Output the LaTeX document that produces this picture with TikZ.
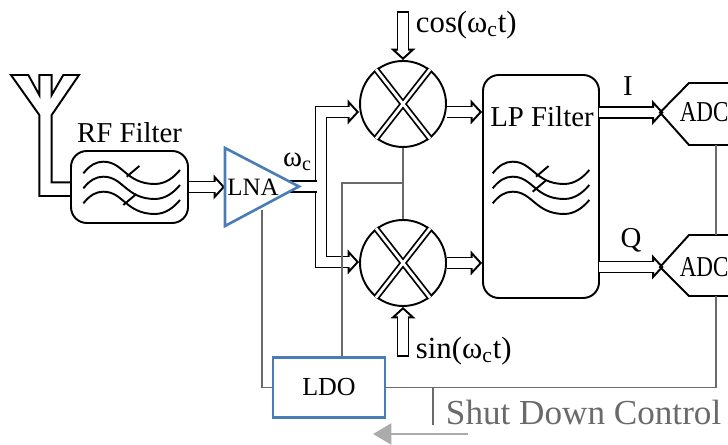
\documentclass[tikz,border=0pt]{standalone}
\usepackage{fontspec}
\setmainfont{Liberation Serif}
\usetikzlibrary{arrows.meta}
\definecolor{lnablue}{HTML}{4A7DB5}
\definecolor{wiregray}{HTML}{6A6A6A}
\definecolor{flowgray}{HTML}{ABABAB}

\begin{document}
\begin{tikzpicture}[line width=1.1pt,
                    label/.style={inner sep=0pt,font=\fontsize{16.4}{18}\selectfont},
                    siglabel/.style={label,anchor=west,font=\fontsize{17.5}{19}\selectfont},
                    filterbox/.style={draw,fill=white,rounded corners=9pt,inner sep=0pt},
                    mixer/.style={circle,draw,fill=white,inner sep=0pt,minimum size=1.72cm},
                    band/.style={double=white,double distance=1.6pt,line width=1pt},
                    bus/.style={line width=7.2pt,postaction={draw=white,line width=5.2pt,-}},
                    hollow/.style={line width=7.2pt,-{Triangle[length=6.5pt,width=14pt,fill=white,line width=1.1pt]},
                                   postaction={draw=white,line width=5.2pt,-,shorten >=5pt}},
                    wire/.style={wiregray,line width=0.9pt},
                    pics/waves/.style={code={
                      \foreach \d in {0,-0.3,-0.6}
                        \draw[yshift=\d cm] (0,0) .. controls (0.13,0.16) and (0.25,0.233) .. (0.4,0.233)
                          .. controls (0.8,0.233) and (0.85,-0.213) .. (1.433,-0.213)
                          .. controls (1.65,-0.213) and (1.82,-0.07) .. (1.933,0.067);
                      \draw (0.867,-0.067) -- ++(0.253,0.214);
                      \draw (0.8,#1) -- ++(0.26,0.22);
                    }}]
  \clip (0,0) rectangle (14.56,8.9);

  \coordinate (lnaa) at (4.5,5.94);
  \coordinate (lnab) at (4.5,4.38);
  \coordinate (lnat) at (5.98,5.17);
  \coordinate (lnai) at (5.7,5.17);
  \coordinate (lnaf) at (5.24,4.7);
  \coordinate (fork) at (6.42,5.17);
  \coordinate (forkl) at (6.33,5.17);
  \coordinate (cosin) at (8.06,8.66);
  \coordinate (sinin) at (8.06,1.78);
  \coordinate (tap) at (6.84,5.24);
  \coordinate (iout) at (11.98,6.65);
  \coordinate (qout) at (11.98,3.56);
  \coordinate (adca) at (13.2,6.65);
  \coordinate (adcb) at (13.2,3.56);
  \coordinate (bridgea) at (14.32,6.0);
  \coordinate (bridgeb) at (14.32,4.2);
  \coordinate (bridgec) at (14.32,2.98);
  \coordinate (shut) at (8.66,1.15);
  \coordinate (shutend) at (8.66,0.4);
  \coordinate (flowa) at (9.36,0.22);
  \coordinate (flowb) at (7.46,0.22);

  \draw (0.22,7.4) -- (0.786,6.6) -- (0.786,4.98) -- (1.42,4.98) -- (1.42,5.254) -- (1.034,5.254)
    -- (1.034,6.6) -- (1.58,7.4) -- (1.266,7.4) -- (1.034,7.0) -- (1.034,7.4) -- (0.786,7.4)
    -- (0.786,7.0) -- (0.566,7.4) -- cycle;

  \node[filterbox,minimum width=2.34cm,minimum height=1.44cm] (rff) at (2.59,5.16) {};
  \node[filterbox,minimum width=2.32cm,minimum height=4.46cm] (lpf) at (10.82,5.17) {};
  \node[mixer] (mixa) at (8.06,6.82) {};
  \node[mixer] (mixb) at (8.06,3.64) {};
  \node[draw=lnablue,fill=white,line width=1.5pt,minimum width=2.24cm,minimum height=1.2cm,
        font=\fontsize{14.8}{16}\selectfont] (ldo) at (6.58,1.15) {LDO};

  \pic at (1.667,5.433) {waves=-0.633};
  \pic at (9.853,5.433) {waves=-0.367};
  \foreach \m in {mixa,mixb}
    \draw[band] (\m.128) -- (\m.308) (\m.52) -- (\m.232);

  \node[label] (rfl) at (2.59,6.24) {RF Filter};
  \node[label] (lpl) at (10.84,6.56) {LP Filter};
  \node[siglabel] (coslab) at (8.3,8.4) {cos(ω\textsubscript{c}t)};
  \node[siglabel] (sinlab) at (8.3,1.88) {sin(ω\textsubscript{c}t)};
  \node[label] (wc) at (5.95,5.66) {ω\textsubscript{c}};
  \node[label] (il) at (12.56,7.18) {I};
  \node[label] (ql) at (12.62,4.1) {Q};
  \node[label,anchor=west,text=wiregray,font=\fontsize{20}{22}\selectfont] (sdc) at (8.9,0.66) {Shut Down Control};

  \draw[hollow] (fork) |- (mixa.west|-0,6.66);
  \draw[hollow] (fork) |- (mixb.west|-0,3.66);
  \draw[bus] (lnai) -- (forkl);
  \draw[hollow] (rff.east) -- (lnaa|-rff.east);
  \draw[hollow] (mixa.east|-0,6.66) -- (lpf.west|-0,6.66);
  \draw[hollow] (mixb.east|-0,3.64) -- (lpf.west|-0,3.64);
  \draw[hollow] (iout) -- ([xshift=2pt]adca);
  \draw[hollow] (qout) -- ([xshift=2pt]adcb);
  \draw[hollow] (cosin) -- (mixa.north);
  \draw[hollow] (sinin) -- (mixb.south);
  \draw ([xshift=-3.6pt]cosin) -- ([xshift=3.6pt]cosin);
  \draw ([xshift=-3.6pt]sinin) -- ([xshift=3.6pt]sinin);

  \draw (14.7,7.24) -- (13.78,7.24) -- (adca) -- (13.78,6.0) -- (14.7,6.0);
  \draw (14.7,4.2) -- (13.78,4.2) -- (adcb) -- (13.78,2.98) -- (14.7,2.98);
  \node[label,anchor=west,xscale=0.8,transform shape] (adcal) at (13.58,6.65) {ADC};
  \node[label,anchor=west,xscale=0.8,transform shape] (adcbl) at (13.58,3.56) {ADC};

  \draw[lnablue,fill=white,line width=1.5pt] (lnaa) -- (lnat) -- (lnab) -- cycle;
  \node[label,font=\fontsize{14.2}{16}\selectfont] (lna) at (5.06,5.15) {LNA};

  \draw[wire] (ldo.west) -| (lnaf);
  \draw[wire] (tap|-ldo.north) -- (tap) -- (tap-|mixa);
  \draw[wire] (mixa.south) -- (mixb.north);
  \draw[wire] (ldo.east) -| (bridgec);
  \draw[wire] (bridgea) -- (bridgeb);
  \draw[wire] (shut) -- (shutend);
  \draw[flowgray,line width=1.3pt,-{Triangle[length=10.5pt,width=12pt]}] (flowa) -- (flowb);
\end{tikzpicture}
\end{document}
